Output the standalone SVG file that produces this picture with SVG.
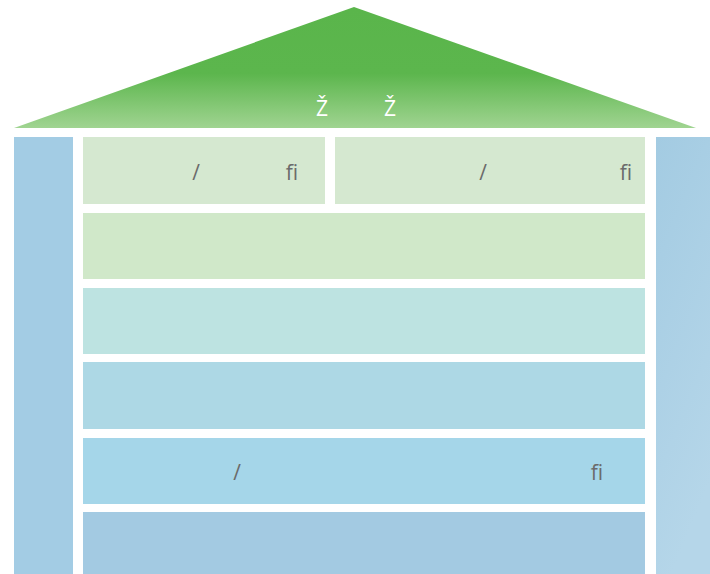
<svg xmlns="http://www.w3.org/2000/svg" width="710" height="574" viewBox="0 0 710 574">
<defs>
<linearGradient id="roofG" x1="0" y1="0" x2="0" y2="1">
<stop offset="0" stop-color="#5ab54b"/>
<stop offset="0.55" stop-color="#5cb64d"/>
<stop offset="1" stop-color="#a0d491"/>
</linearGradient>
<linearGradient id="pillarR" x1="0" y1="0" x2="0.3" y2="1">
<stop offset="0" stop-color="#a3cbe2"/>
<stop offset="1" stop-color="#b5d6e9"/>
</linearGradient>
<style>
.t{font-family:"Open Sans","Liberation Sans",sans-serif;font-size:21px;fill:#6b6b6b}
.w{font-family:"Open Sans","Liberation Sans",sans-serif;font-size:21px;fill:#ffffff}
</style>
</defs>
<rect width="710" height="574" fill="#ffffff"/>
<g id="roof">
<polygon points="354,7 14,128 696,128" fill="url(#roofG)"/>
<text class="w" x="322" y="116" text-anchor="middle">Ž</text>
<text class="w" x="390" y="116" text-anchor="middle">Ž</text>
</g>
<g id="pillar-left"><rect x="14" y="137" width="59" height="437" fill="#a3cce4"/></g>
<g id="pillar-right"><rect x="656" y="137" width="54" height="437" fill="url(#pillarR)"/></g>
<g id="row1a">
<rect x="83" y="137" width="242" height="67" fill="#d5e8d0"/>
<text class="t" x="196" y="180" text-anchor="middle">/</text>
<text class="t" x="292" y="180" text-anchor="middle">fi</text>
</g>
<g id="row1b">
<rect x="335" y="137" width="310" height="67" fill="#d5e8d0"/>
<text class="t" x="483" y="180" text-anchor="middle">/</text>
<text class="t" x="626" y="180" text-anchor="middle">fi</text>
</g>
<g id="row2"><rect x="83" y="213" width="562" height="66" fill="#d0e8c9"/></g>
<g id="row3"><rect x="83" y="288" width="562" height="66" fill="#bde3e1"/></g>
<g id="row4"><rect x="83" y="362" width="562" height="67" fill="#add8e5"/></g>
<g id="row5">
<rect x="83" y="438" width="562" height="66" fill="#a5d6e9"/>
<text class="t" x="237" y="480" text-anchor="middle">/</text>
<text class="t" x="597" y="480" text-anchor="middle">fi</text>
</g>
<g id="row6"><rect x="83" y="512" width="562" height="62" fill="#a3cae2"/></g>
<g id="connectors"></g>
</svg>
